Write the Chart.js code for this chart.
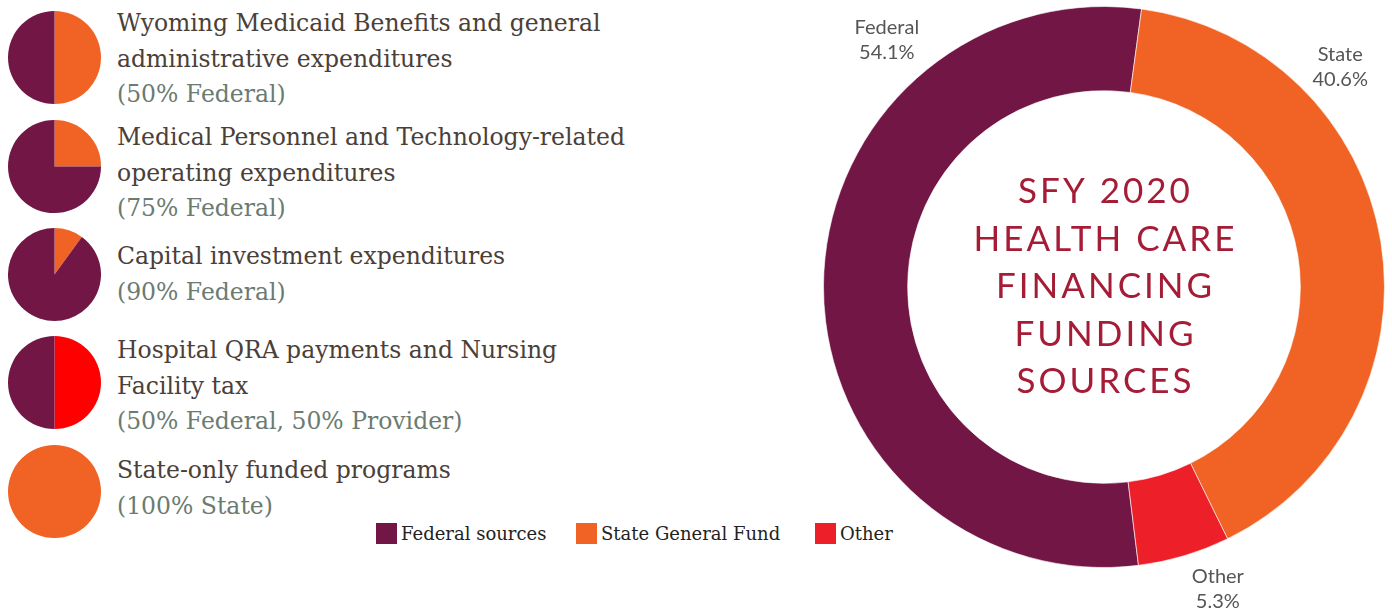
<!DOCTYPE html>
<html>
<head>
<meta charset="utf-8">
<script src="https://cdn.jsdelivr.net/npm/chart.js@4/dist/chart.umd.min.js"></script>
<style>
  body { margin: 0; background: #fff; width: 1392px; height: 611px; position: relative; overflow: hidden; }
  .pie { position: absolute; left: 8px; width: 93px; height: 93px; }
  .block { position: absolute; left: 117px; font-family: "DejaVu Serif", serif; font-size: 23.5px; line-height: 35.5px; color: #4a4038; white-space: nowrap; }
  .block .sub { color: #6b7b72; }
  #legend { position: absolute; top: 523px; left: 376px; font-family: "DejaVu Serif", serif; font-size: 18px; color: #222; }
  .leg { position: absolute; top: 0; white-space: nowrap; line-height: 22px; }
  .leg span { display: inline-block; width: 21px; height: 21px; vertical-align: top; margin-right: 4px; }
  #donutBox { position: absolute; left: 800px; top: 0; width: 592px; height: 611px; }
</style>
</head>
<body>
<div id="blocks"></div>
<div id="legend"></div>
<div id="donutBox"><canvas id="donut"></canvas></div>
<script>
// Small pies: share of each category per program
const programTitles = [
  ['Wyoming Medicaid Benefits and general', 'administrative expenditures'],
  ['Medical Personnel and Technology-related', 'operating expenditures'],
  ['Capital investment expenditures'],
  ['Hospital QRA payments and Nursing', 'Facility tax'],
  ['State-only funded programs'],
];
const programNotes = ['(50% Federal)', '(75% Federal)', '(90% Federal)', '(50% Federal, 50% Provider)', '(100% State)'];
const stateShare = [50, 25, 10, 0, 100];
const providerShare = [0, 0, 0, 50, 0];
const federalShare = [50, 75, 90, 50, 0];

// Big doughnut
const sourceLabels = ['Federal', 'State', 'Other'];
const sourceValues = [54.1, 40.6, 5.3];
const legendLabels = ['Federal sources', 'State General Fund', 'Other'];
const centerTitle = ['SFY 2020', 'HEALTH CARE', 'FINANCING', 'FUNDING', 'SOURCES'];

const colors = { federal: '#721646', state: '#f06324', other: '#ed1f29', provider: '#fe0000' };

// layout helpers
const pieCenters = [57, 166, 274, 382, 491];
const blockTops = [6, 120, 239, 333, 453];
const legendX = [0, 200, 439];

// build the small pies and their text blocks
const blocksDiv = document.getElementById('blocks');
programTitles.forEach((lines, i) => {
  const box = document.createElement('div');
  box.className = 'pie';
  box.style.top = (pieCenters[i] - 46.5) + 'px';
  const cv = document.createElement('canvas');
  box.appendChild(cv);
  document.body.appendChild(box);

  new Chart(cv, {
    type: 'pie',
    data: {
      labels: ['State', 'Provider', 'Federal'],
      datasets: [{
        data: [stateShare[i], providerShare[i], federalShare[i]],
        backgroundColor: [colors.state, colors.provider, colors.federal],
        borderWidth: 0,
      }],
    },
    options: {
      responsive: true,
      maintainAspectRatio: false,
      animation: false,
      events: [],
      layout: { padding: 0 },
      plugins: { legend: { display: false }, tooltip: { enabled: false } },
    },
  });

  const block = document.createElement('div');
  block.className = 'block';
  block.style.top = blockTops[i] + 'px';
  block.innerHTML = lines.map((l) => '<div>' + l + '</div>').join('') +
    '<div class="sub">' + programNotes[i] + '</div>';
  blocksDiv.appendChild(block);
});

// legend
const legendDiv = document.getElementById('legend');
const legendColors = [colors.federal, colors.state, colors.other];
legendLabels.forEach((name, i) => {
  const item = document.createElement('div');
  item.className = 'leg';
  item.style.left = legendX[i] + 'px';
  item.innerHTML = '<span style="background:' + legendColors[i] + '"></span>' + name;
  legendDiv.appendChild(item);
});

// labels around the doughnut and title in its hole
const donutText = {
  id: 'donutText',
  afterDraw(chart) {
    const ctx = chart.ctx;
    const meta = chart.getDatasetMeta(0);
    const cx = meta.data[0].x;
    const cy = meta.data[0].y;

    // center title
    ctx.save();
    ctx.fillStyle = '#a51c36';
    ctx.font = '35px Lato';
    ctx.textAlign = 'center';
    ctx.textBaseline = 'middle';
    if ('letterSpacing' in ctx) ctx.letterSpacing = '3px';
    centerTitle.forEach((t, i) => {
      ctx.fillText(t, cx + 1.5, cy - 95 + i * 47.5);
    });
    ctx.restore();

    // outside labels (angle clockwise from top, distance from center)
    const anchors = [[-41.3, 329], [47, 323], [159.3, 322]];
    ctx.save();
    ctx.fillStyle = '#555';
    ctx.font = '20px Lato';
    ctx.textAlign = 'center';
    ctx.textBaseline = 'middle';
    sourceLabels.forEach((name, i) => {
      const a = anchors[i][0] * Math.PI / 180;
      const x = cx + Math.sin(a) * anchors[i][1];
      const y = cy - Math.cos(a) * anchors[i][1];
      ctx.fillText(name, x, y - 12);
      ctx.fillText(sourceValues[i].toFixed(1) + '%', x, y + 13);
    });
    ctx.restore();
  },
};

new Chart(document.getElementById('donut'), {
  type: 'doughnut',
  data: {
    labels: sourceLabels,
    datasets: [{
      data: sourceValues,
      backgroundColor: [colors.federal, colors.state, colors.other],
      borderColor: 'rgba(255,255,255,0.6)',
      borderWidth: 1,
    }],
  },
  options: {
    responsive: true,
    maintainAspectRatio: false,
    animation: false,
    events: [],
    cutout: '70%',
    rotation: 7.7 - 360 * 0.541,
    layout: { padding: { left: 23, right: 7, top: 6, bottom: 43 } },
    plugins: { legend: { display: false }, tooltip: { enabled: false } },
  },
  plugins: [donutText],
});
</script>
</body>
</html>
